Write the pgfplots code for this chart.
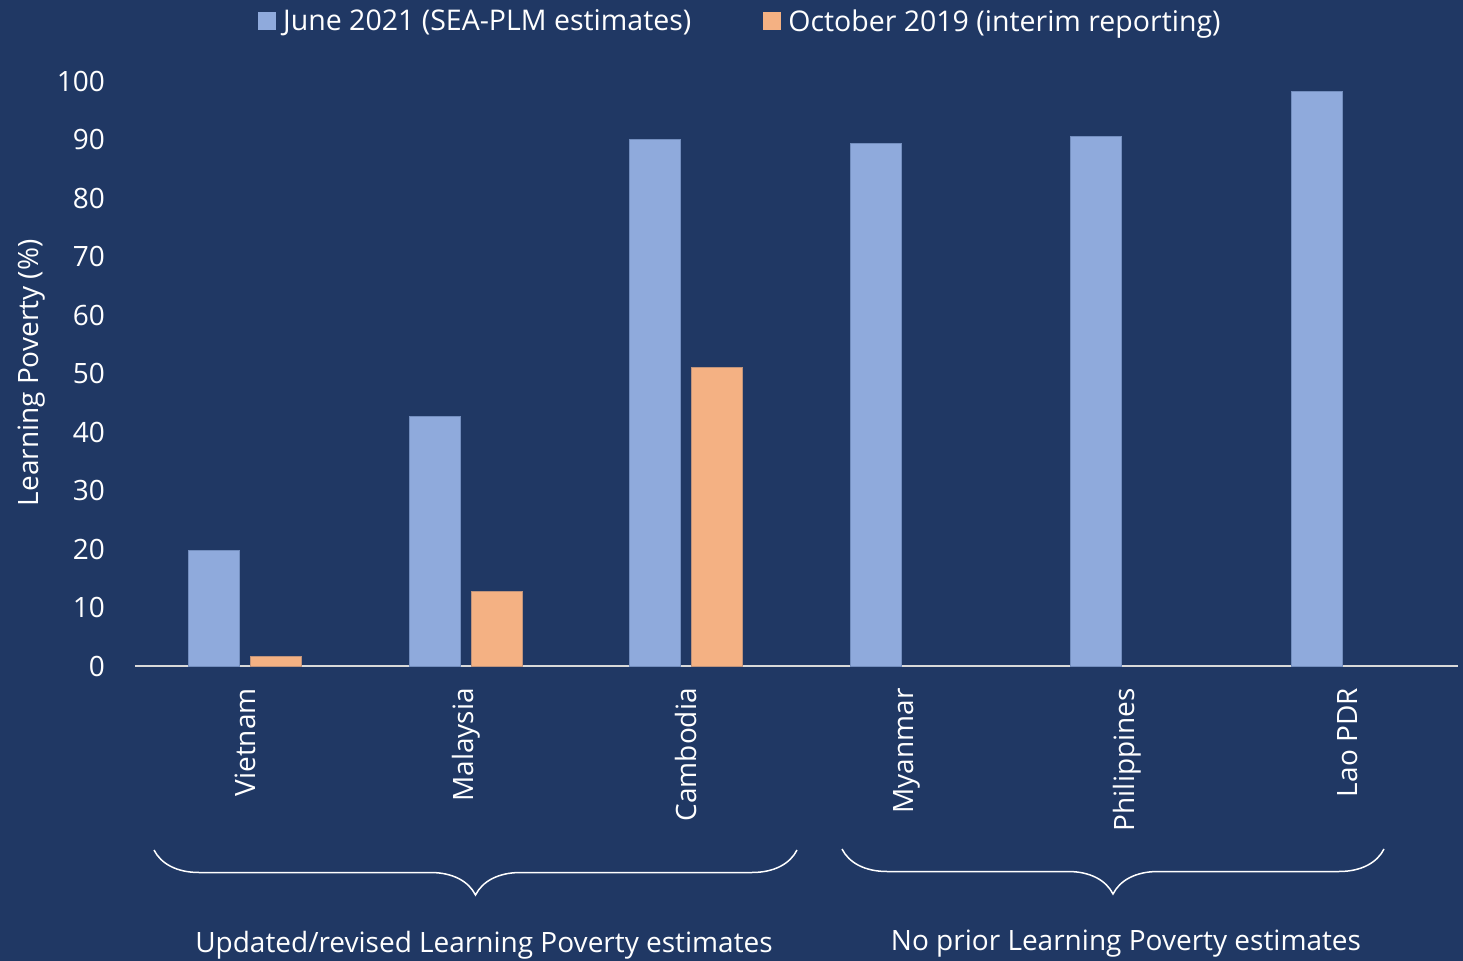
\documentclass[border=0pt]{standalone}
\usepackage{pgfplots}
\pgfplotsset{compat=1.18}
\usepackage{fontspec}
\setmainfont{Open Sans}
\usetikzlibrary{decorations.pathreplacing}
\definecolor{bgcol}{HTML}{203864}
\definecolor{barblue}{HTML}{8FAADC}
\definecolor{barorange}{HTML}{F4B183}
\definecolor{axgray}{HTML}{D9D9D9}
\newcommand{\bigfont}{\fontsize{28bp}{33bp}\selectfont}
\newcommand{\legfont}{\fontsize{28.5bp}{34bp}\selectfont}
\begin{document}
\begin{tikzpicture}
\fill[bgcol] (-135bp,-295bp) rectangle (1328bp,666bp);
\begin{axis}[
  at={(0bp,0bp)}, anchor=south west,
  scale only axis, width=1323bp, height=585bp,
  xmin=-0.5, xmax=5.5, ymin=0, ymax=100,
  ytick={0,10,...,100},
  xtick={0,1,2,3,4,5},
  xticklabels={Vietnam,Malaysia,Cambodia,Myanmar,Philippines,Lao PDR},
  separate axis lines,
  axis x line*=bottom, axis y line*=left,
  y axis line style={draw=none},
  x axis line style={draw=axgray, line width=1.8bp, -},
  major tick length=0pt, tick style={draw=none},
  /pgf/number format/assume math mode=true,
  tick label style={font=\bigfont, text=white},
  yticklabel style={inner sep=0pt, anchor=east, xshift=-30bp},
  xticklabel style={rotate=90, anchor=east, inner sep=0pt},
  xticklabel shift=22bp,
  ylabel={Learning Poverty (\%)},
  every axis y label/.style={at={(axis description cs:-0.0779,0.501)}, rotate=90, anchor=center, font=\bigfont, text=white},
  legend style={at={(0.093,1.1026)}, anchor=west, draw=none, fill=none,
    text=white, font=\legfont, inner sep=0pt, nodes={inner sep=0pt},
    /tikz/every odd column/.append style={column sep=7bp},
    /tikz/every even column/.append style={column sep=72bp}},
  legend columns=2,
  legend image code/.code={\fill[#1, draw=none] (0bp,-9bp) rectangle (18bp,9bp);},
]
\addplot[ybar, bar width=51bp, bar shift=-31bp, fill=barblue, draw=barblue!75!bgcol, line width=0.6bp]
  coordinates {(0,19.7) (1,42.7) (2,90.0) (3,89.4) (4,90.5) (5,98.2)};
\addlegendentry{June 2021 (SEA-PLM estimates)}
\addplot[ybar, bar width=51bp, bar shift=31bp, fill=barorange, draw=barorange!75!bgcol, line width=0.6bp]
  coordinates {(0,1.6) (1,12.8) (2,51.0)};
\addlegendentry{October 2019 (interim reporting)}
\end{axis}
\draw[white, line width=1.5bp, decorate, decoration={brace, mirror, amplitude=45bp}] (19bp,-184bp) -- (662bp,-184bp);
\draw[white, line width=1.5bp, decorate, decoration={brace, mirror, amplitude=45bp}] (707bp,-183bp) -- (1249bp,-183bp);
\node[anchor=base, text=white, font=\bigfont, inner sep=0pt] at (349bp,-286bp) {Updated/revised Learning Poverty estimates};
\node[anchor=base, text=white, font=\bigfont, inner sep=0pt] at (991bp,-284bp) {No prior Learning Poverty estimates};
\pgfresetboundingbox
\path[use as bounding box] (-135bp,-295bp) rectangle (1328bp,666bp);
\end{tikzpicture}
\end{document}
